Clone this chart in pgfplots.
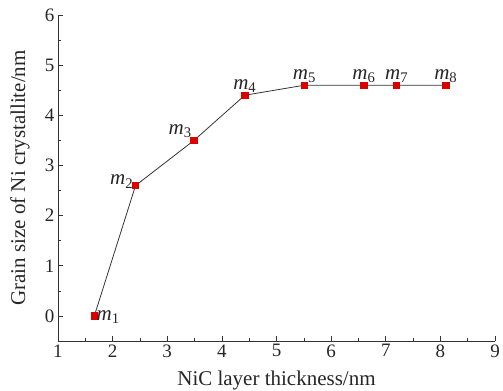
\documentclass[border=0pt]{standalone}
\usepackage{pgfplots}
\pgfplotsset{compat=1.18}
\usepackage{fontspec}
\setmainfont{Liberation Serif}
\newcommand{\ml}[1]{\textit{m}\textsubscript{#1}}
\begin{document}
\begin{tikzpicture}[x=1bp,y=1bp]
\path[use as bounding box] (-58bp,-50bp) rectangle (445bp,341bp);
\begin{axis}[
  at={(0,0)}, anchor=south west,
  scale only axis,
  width=437bp, height=326bp,
  xmin=1, xmax=9, ymin=-0.5, ymax=6,
  axis lines*=left,
  xtick={1,...,9}, ytick={0,...,6},
  minor x tick num=1, minor y tick num=1,
  tick align=inside,
  major tick length=5bp, minor tick length=3bp,
  every tick/.style={black!80, line width=0.6pt},
  axis line style={black!80, line width=0.8pt},
  ticklabel style={font=\fontsize{19bp}{21bp}\selectfont, text=black!85},
  label style={font=\fontsize{21bp}{23bp}\selectfont, text=black!85},
  /pgf/number format/assume math mode=true,
  xticklabel={\pgfmathprintnumber{\tick}},
  yticklabel={\pgfmathprintnumber{\tick}},
  xlabel={NiC layer thickness/nm},
  ylabel={Grain size of Ni crystallite/nm},
  xlabel style={at={(axis description cs:0.5,-0.12)}, anchor=center},
  ylabel style={at={(axis description cs:-0.087,0.5)}, anchor=center},
  clip=false,
  nodes near coords,
  point meta=explicit symbolic,
  every node near coord/.style={font=\fontsize{21bp}{23bp}\selectfont, text=black!85, anchor=south, inner sep=2bp},
]
\addplot[black!80, line width=0.8pt, mark=square*, mark size=3.2bp, mark options={draw=red!85!black, fill=red!85!black},
  visualization depends on={value \thisrow{anc} \as \anc},
  visualization depends on={value \thisrow{dy} \as \dy},
  every node near coord/.append style={anchor=\anc, yshift=\dy bp}]
table[meta=lab, row sep=\\] {
x y lab anc dy\\
1.665 0 {\ml{1}} west -1\\
2.42 2.6 {\ml{2}} east 4\\
3.49 3.5 {\ml{3}} {south east} 0\\
4.42 4.4 {\ml{4}} south 0\\
5.51 4.6 {\ml{5}} south 0\\
6.60 4.6 {\ml{6}} south 0\\
7.20 4.6 {\ml{7}} south 0\\
8.10 4.6 {\ml{8}} south 0\\
};
\end{axis}
\end{tikzpicture}
\end{document}
